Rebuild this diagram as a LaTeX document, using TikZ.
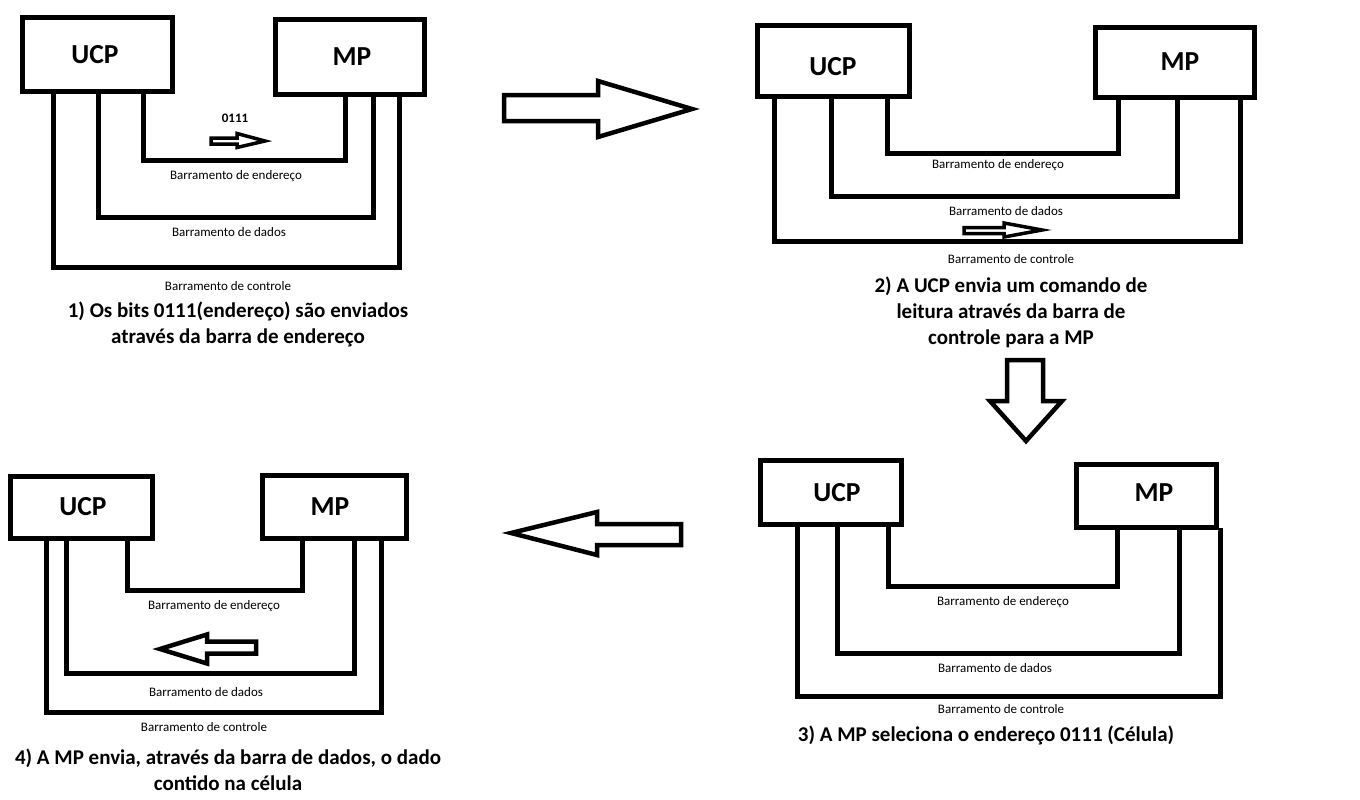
\documentclass[tikz,border=0pt]{standalone}
\usepackage{fontspec}
\setmainfont{Carlito}
\begin{document}
\begin{tikzpicture}[x=1pt,y=-1pt,
  unit/.style={draw=black,line width=5pt,fill=white,inner sep=0pt,anchor=center},
  unitlabel/.style={font=\fontsize{27.5}{32}\selectfont\bfseries,inner sep=0pt,anchor=center},
  busline/.style={draw=black,line width=5pt,line join=miter},
  buslabel/.style={font=\fontsize{13}{15}\selectfont,inner sep=0pt,anchor=center},
  caption/.style={font=\fontsize{21}{26}\selectfont\bfseries,align=center,inner sep=0pt,anchor=center},
  bigarrow/.style={draw=black,line width=4.5pt,fill=white,line join=miter},
  smallarrow/.style={draw=black,line width=3.5pt,fill=white,line join=miter}]
\useasboundingbox (0,0) rectangle (1360,800);
\fill[white] (0,0) rectangle (1360,800);

% ---------- Panel 1 ----------
\node[unit,minimum width=150pt,minimum height=74pt] (ucpA) at (97.5,54.5) {};
\node[unit,minimum width=149pt,minimum height=75pt] (mpA) at (350,57) {};
\node[unitlabel] (ucpAl) at (95,55) {UCP};
\node[unitlabel] (mpAl) at (352,57) {MP};
\draw[busline] (ucpA.south -| 143,0) -- (143,160) -- (345,160) -- (mpA.south -| 345,0);
\draw[busline] (ucpA.south -| 98,0) -- (98,217) -- (373,217) -- (mpA.south -| 373,0);
\draw[busline] (ucpA.south -| 53,0) -- (53,267) -- (399,267) -- (mpA.south -| 399,0);
\node[buslabel] (addrA) at (236,176) {Barramento de endereço};
\node[buslabel] (dataA) at (229,232) {Barramento de dados};
\node[buslabel] (ctrlA) at (228,286) {Barramento de controle};
\node[font=\fontsize{13}{15}\selectfont\bfseries,inner sep=0pt] (bitsA) at (235,118) {0111};
\draw[smallarrow] (211,138) -- (237,138) -- (237,133.5) -- (265,141) -- (237,147.5) -- (237,144) -- (211,144) -- cycle;
\node[caption] (capA) at (238,324) {1) Os bits 0111(endereço) são enviados\\através da barra de endereço};

% ---------- Panel 2 ----------
\node[unit,minimum width=152pt,minimum height=71pt] (ucpB) at (833.5,61) {};
\node[unit,minimum width=159pt,minimum height=70pt] (mpB) at (1175,62.5) {};
\node[unitlabel] (ucpBl) at (833,67) {UCP};
\node[unitlabel] (mpBl) at (1180,62) {MP};
\draw[busline] (ucpB.south -| 887,0) -- (887,153) -- (1118,153) -- (mpB.south -| 1118,0);
\draw[busline] (ucpB.south -| 831,0) -- (831,196) -- (1177,196) -- (mpB.south -| 1177,0);
\draw[busline] (ucpB.south -| 774,0) -- (774,241) -- (1240,241) -- (mpB.south -| 1240,0);
\node[buslabel] (addrB) at (998,165) {Barramento de endereço};
\node[buslabel] (dataB) at (1006,211) {Barramento de dados};
\node[buslabel] (ctrlB) at (1011,259) {Barramento de controle};
\draw[smallarrow] (964,227.5) -- (1004,227.5) -- (1004,223) -- (1042,230) -- (1004,237) -- (1004,233.5) -- (964,233.5) -- cycle;
\node[caption] (capB) at (1011,312) {2) A UCP envia um comando de\\leitura através da barra de\\controle para a MP};

% ---------- Panel 3 ----------
\node[unit,minimum width=141pt,minimum height=64pt] (ucpC) at (831,492.5) {};
\node[unit,minimum width=140pt,minimum height=63pt] (mpC) at (1146.5,496) {};
\node[unitlabel] (ucpCl) at (837,493) {UCP};
\node[unitlabel] (mpCl) at (1154,493) {MP};
\draw[busline] (ucpC.south -| 888,0) -- (888,586) -- (1117,586) -- (mpC.south -| 1117,0);
\draw[busline] (ucpC.south -| 837,0) -- (837,653) -- (1179,653) -- (mpC.south -| 1179,0);
\draw[busline] (ucpC.south -| 797,0) -- (797,696) -- (1220,696) -- (1220,530) -- (mpC.south east);
\node[buslabel] (addrC) at (1003,602) {Barramento de endereço};
\node[buslabel] (dataC) at (995,668) {Barramento de dados};
\node[buslabel] (ctrlC) at (1001,709) {Barramento de controle};
\node[caption] (capC) at (986,735) {3) A MP seleciona o endereço 0111 (Célula)};

% ---------- Panel 4 ----------
\node[unit,minimum width=142pt,minimum height=62pt] (ucpD) at (81.5,507.5) {};
\node[unit,minimum width=144pt,minimum height=63pt] (mpD) at (334.5,507) {};
\node[unitlabel] (ucpDl) at (83,507) {UCP};
\node[unitlabel] (mpDl) at (330,507) {MP};
\draw[busline] (ucpD.south -| 127,0) -- (127,590) -- (302,590) -- (mpD.south -| 302,0);
\draw[busline] (ucpD.south -| 66,0) -- (66,673) -- (354,673) -- (mpD.south -| 354,0);
\draw[busline] (ucpD.south -| 46,0) -- (46,712) -- (381,712) -- (mpD.south -| 381,0);
\node[buslabel] (addrD) at (214,606) {Barramento de endereço};
\node[buslabel] (dataD) at (206,692) {Barramento de dados};
\node[buslabel] (ctrlD) at (204,727) {Barramento de controle};
\draw[bigarrow] (160,649) -- (207,634.5) -- (207,641.5) -- (256,641.5) -- (256,653.5) -- (207,653.5) -- (207,663.5) -- cycle;
\node[caption] (capD) at (228,770) {4) A MP envia, através da barra de dados, o dado\\contido na célula};

% ---------- Step arrows ----------
\draw[bigarrow] (504,95) -- (598,95) -- (598,81) -- (692,109) -- (598,137) -- (598,121) -- (504,121) -- cycle;
\draw[bigarrow] (1007,360) -- (1043,360) -- (1043,401) -- (1062,401) -- (1026,441) -- (990,401) -- (1007,401) -- cycle;
\draw[bigarrow] (511,533) -- (597,512) -- (597,524) -- (681,524) -- (681,545) -- (597,545) -- (597,555) -- cycle;
\end{tikzpicture}
\end{document}
